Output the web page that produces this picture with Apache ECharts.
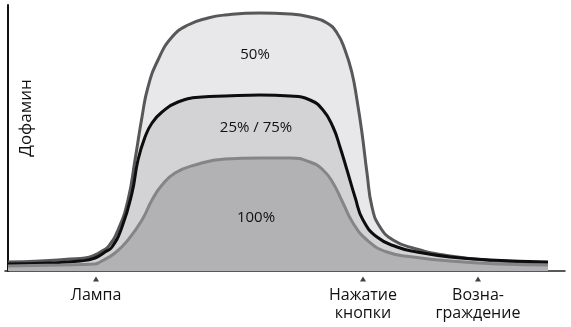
<!DOCTYPE html>
<html><head><meta charset="utf-8">
<script src="https://cdn.jsdelivr.net/npm/echarts@6/dist/echarts.min.js"></script>
<style>html,body{margin:0;padding:0;background:#fff}#c{width:571px;height:327px}</style>
</head><body><div id="c"></div>
<script>
// Curve samples: x position along the time axis, dopamine level
const outerX = [8,40,70,85,95,102,108,118,128,135,142,148,158,172,188,208,225,260,290,310,327,337,345,352,357,362,367,372,380,393,413,450,500,548];
const outerY = [9,10,12,13,16,20,24,41,71,111,154,184,211,234,246,253,256,258,257,254,248,238,221,198,171,138,98,64,44,31,23,15,10,8];
const midX = [8,50,80,95,105,112,122,132,138,145,152,162,178,202,225,260,290,310,323,333,340,347,355,363,377,397,417,450,490,548];
const midY = [7,8,10,13,19,24,44,78,111,134,148,159,169,174,175,176,175,171,161,144,124,101,74,51,34,24,19,14,11,9];
const innerX = [8,60,95,100,115,128,142,152,162,175,195,225,260,290,310,323,333,343,353,367,387,413,450,500,548];
const innerY = [5,6,7,9,18,31,51,71,86,98,106,112,113,113,109,101,88,68,48,31,19,14,10,7,6];
const tickPos = [96,363,478];
const tickText = ['Лампа','Нажатие\nкнопки','Возна-\nграждение'];
const seriesNames = ['50%','25% / 75%','100%'];
const yName = 'Дофамин';

const zip = (xs, ys) => xs.map((x, i) => [x, ys[i]]);
const FONT = 'Open Sans';
const chart = echarts.init(document.getElementById('c'), null, {renderer: 'canvas'});

function area(name, xs, ys, fill, stroke, w) {
  return {
    name, type: 'line', data: zip(xs, ys), smooth: 0.5, showSymbol: false, silent: true,
    lineStyle: {color: stroke, width: w}, areaStyle: {color: fill, opacity: 1},
    animation: false
  };
}
const lbl = (t, x, y, size) => ({type: 'text', z: 100, x, y, style: {text: t, fontFamily: FONT, fontSize: size, fill: '#111', align: 'center', verticalAlign: 'middle'}});

chart.setOption({
  animation: false,
  grid: {left: 5, right: 6, top: 5, bottom: 56},
  xAxis: {
    type: 'value', min: 5, max: 565,
    axisLine: {show: true, lineStyle: {color: '#222', width: 1.5}},
    axisTick: {show: false}, splitLine: {show: false},
    axisLabel: {
      customValues: tickPos, margin: 15,
      color: '#111', fontFamily: FONT, fontSize: 16, lineHeight: 18,
      formatter: v => tickText[tickPos.indexOf(v)] || ''
    }
  },
  yAxis: {
    type: 'value', min: 0, max: 266, offset: -3,
    axisLine: {show: true, lineStyle: {color: '#111', width: 2}},
    axisTick: {show: false}, axisLabel: {show: false}, splitLine: {show: false}
  },
  series: [
    area(seriesNames[0], outerX, outerY, '#e8e8ea', '#58585b', 3),
    area(seriesNames[1], midX, midY, '#d3d3d5', '#0d0d0d', 3),
    area(seriesNames[2], innerX, innerY, '#b2b2b5', '#858587', 3),
    {
      type: 'scatter', data: tickPos.map(x => [x, -8]), symbol: 'triangle', symbolSize: [6, 5],
      itemStyle: {color: '#111'}, clip: false, silent: true
    }
  ],
  graphic: [
    lbl(seriesNames[0], 255, 55, 15),
    lbl(seriesNames[1], 256, 128, 15),
    lbl(seriesNames[2], 256, 218, 15),
    Object.assign(lbl(yName, 26, 118, 17), {rotation: Math.PI / 2})
  ]
});
</script></body></html>
